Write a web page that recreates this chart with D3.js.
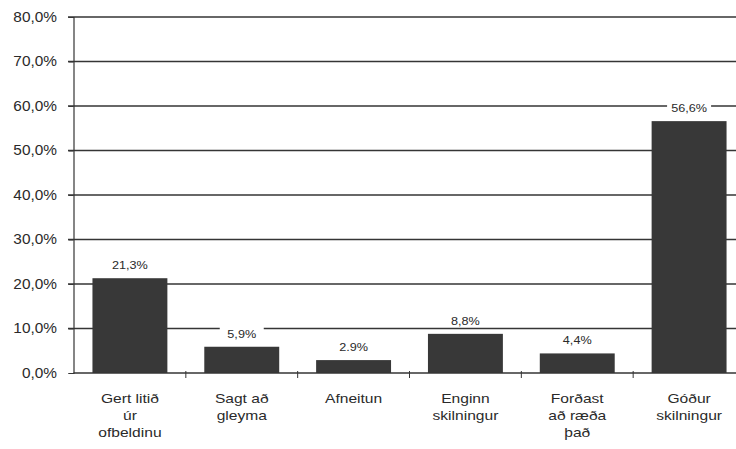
<!DOCTYPE html>
<html lang="en">
<head>
<meta charset="UTF-8">
<title>Bar chart</title>
<script src="https://d3js.org/d3.v7.min.js"></script>
<style>
  body { margin: 0; background: #fff; }
  text { font-family: "Liberation Sans", Arial, sans-serif; fill: #2a2a2a; }
</style>
</head>
<body>
<div class="chart"></div>
<script>
// data
var categories = [
  ["Gert litið", "úr", "ofbeldinu"],
  ["Sagt að", "gleyma"],
  ["Afneitun"],
  ["Enginn", "skilningur"],
  ["Forðast", "að ræða", "það"],
  ["Góður", "skilningur"]
];
var values = [21.3, 5.9, 2.9, 8.8, 4.4, 56.6];
var valueLabels = ["21,3%", "5,9%", "2.9%", "8,8%", "4,4%", "56,6%"];
var yTicks = [0, 10, 20, 30, 40, 50, 60, 70, 80];
var yTickLabels = ["0,0%", "10,0%", "20,0%", "30,0%", "40,0%", "50,0%", "60,0%", "70,0%", "80,0%"];

var W = 736, H = 449;
var ink = "#353535";
var svg = d3.select(".chart").append("svg")
    .attr("width", W).attr("height", H);

var x = d3.scaleBand()
    .domain(d3.range(categories.length))
    .range([74, 745])
    .paddingInner(0.33)
    .paddingOuter(0.165);

var y = d3.scaleLinear().domain([0, 80]).range([373, 17]);

// gridlines
svg.append("g").selectAll("line")
    .data(yTicks.filter(function(d) { return d > 0; }))
    .enter().append("line")
    .attr("x1", 68).attr("x2", W)
    .attr("y1", function(d) { return y(d); })
    .attr("y2", function(d) { return y(d); })
    .attr("stroke", ink).attr("stroke-width", 1.4);

// y axis (labels stretched a little, like the scanned original)
var yStretch = 1.1;
var yAxis = d3.axisLeft(y)
    .tickValues(yTicks)
    .tickFormat(function(d, i) { return yTickLabels[i]; })
    .tickSize(5)
    .tickPadding(11);
var ga = svg.append("g").attr("transform", "translate(73.5,0)").call(yAxis);
ga.select(".domain").attr("stroke", ink).attr("stroke-width", 1.2);
ga.selectAll(".tick line").attr("stroke", ink);
ga.selectAll("text")
    .attr("x", -16.5 / yStretch)
    .attr("transform", "scale(" + yStretch + ",1)")
    .style("font-size", "14px").attr("fill", "#2a2a2a");

// bars
svg.append("g").selectAll("rect")
    .data(values)
    .enter().append("rect")
    .attr("x", function(d, i) { return x(i); })
    .attr("width", x.bandwidth())
    .attr("y", function(d) { return y(d); })
    .attr("height", function(d) { return y(0) - y(d); })
    .attr("fill", "#383838");

// value labels with white background
var vl = svg.append("g").selectAll("g")
    .data(values)
    .enter().append("g")
    .attr("transform", function(d, i) {
      return "translate(" + (x(i) + x.bandwidth() / 2) + "," + (y(d) - 9) + ")";
    });
vl.append("rect")
    .attr("x", -22).attr("y", -11).attr("width", 44).attr("height", 13)
    .attr("fill", "#fff");
vl.append("text")
    .attr("text-anchor", "middle")
    .attr("transform", "scale(1.15,1)")
    .style("font-size", "11px")
    .text(function(d, i) { return valueLabels[i]; });

// x axis
svg.append("line")
    .attr("x1", 73.5).attr("x2", W)
    .attr("y1", y(0)).attr("y2", y(0))
    .attr("stroke", ink).attr("stroke-width", 1.4);
svg.append("g").selectAll("line")
    .data(d3.range(1, categories.length))
    .enter().append("line")
    .attr("x1", function(i) { return x(i) - x.step() * x.paddingInner() / 2; })
    .attr("x2", function(i) { return x(i) - x.step() * x.paddingInner() / 2; })
    .attr("y1", y(0) - 2).attr("y2", y(0) + 5)
    .attr("stroke", ink);

// category labels
var cl = svg.append("g").selectAll("text")
    .data(categories)
    .enter().append("text")
    .attr("text-anchor", "middle")
    .attr("transform", function(d, i) {
      return "translate(" + (x(i) + x.bandwidth() / 2) + ",403) scale(1.2,1)";
    })
    .style("font-size", "13px");
cl.selectAll("tspan")
    .data(function(d) { return d; })
    .enter().append("tspan")
    .attr("x", 0)
    .attr("dy", function(d, j) { return j === 0 ? 0 : 17; })
    .text(function(d) { return d; });
</script>
</body>
</html>
